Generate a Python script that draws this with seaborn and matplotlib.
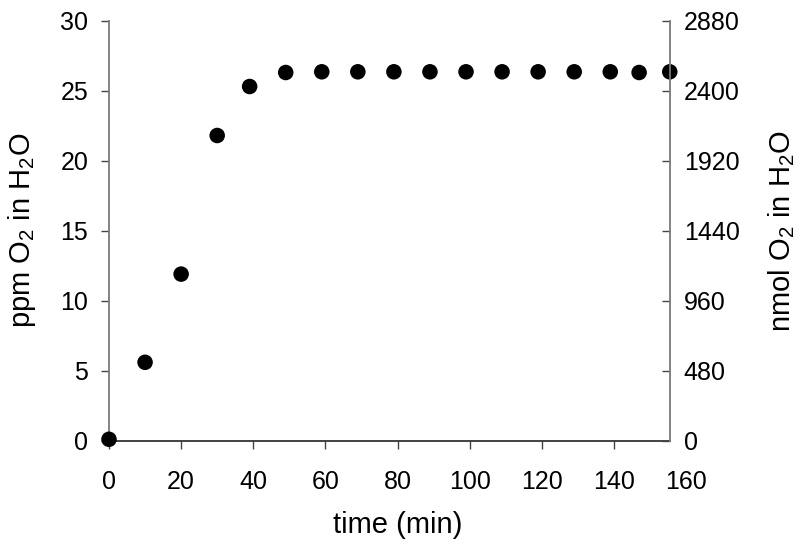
import matplotlib
matplotlib.use("Agg")
import matplotlib.pyplot as plt
import seaborn as sns
import pandas as pd

time_min = [0, 10, 20, 30, 39, 49, 59, 69, 79, 89, 99, 109, 119, 129, 139, 147, 155.5]
ppm_o2 = [0.1, 5.6, 11.9, 21.8, 25.3, 26.3, 26.35, 26.35, 26.35, 26.35, 26.35, 26.35, 26.35, 26.35, 26.35, 26.3, 26.35]
x_ticks = [0, 20, 40, 60, 80, 100, 120, 140, 160]
left_ticks = [0, 5, 10, 15, 20, 25, 30]
right_ticks = [0, 480, 960, 1440, 1920, 2400, 2880]

sns.set_theme(style="white")
plt.rcParams["font.family"] = ["Liberation Sans", "DejaVu Sans"]
plt.rcParams["mathtext.fontset"] = "custom"
plt.rcParams["mathtext.rm"] = "Liberation Sans"
plt.rcParams["mathtext.it"] = "Liberation Sans"
plt.rcParams["text.color"] = "black"
plt.rcParams["axes.labelcolor"] = "black"
plt.rcParams["xtick.color"] = "black"
plt.rcParams["ytick.color"] = "black"

df = pd.DataFrame({"time": time_min, "ppm": ppm_o2})

fig = plt.figure(figsize=(8, 5.46), dpi=100)
ax = fig.add_axes([109 / 800, 1 - 440.7 / 546, (686 - 109) / 800, (440.7 - 20.7) / 546])
sns.scatterplot(data=df, x="time", y="ppm", ax=ax, color="black", s=125,
                edgecolor="none", clip_on=False, zorder=5, legend=False)

ax.set_xlim(0, 160)
ax.set_ylim(0, 30)
ax.set_xticks(x_ticks)
ax.set_yticks(left_ticks)
ax.set_xlabel("time (min)", fontsize=21, labelpad=12)
ax.set_ylabel(r"ppm O$_2$ in H$_2$O", fontsize=21, labelpad=16)

gray = "#7a7a7a"
for s in ["top", "right"]:
    ax.spines[s].set_visible(False)
ax.spines["left"].set_color(gray)
ax.spines["left"].set_linewidth(1.3)
ax.spines["bottom"].set_color("#222222")
ax.spines["bottom"].set_linewidth(1.2)
ax.spines["bottom"].set_bounds(0, 155.5)

ax.tick_params(axis="x", direction="out", length=6, width=1.0, color="#444444",
               labelsize=18, labelcolor="black", pad=15, bottom=True)
ax.tick_params(axis="y", direction="out", length=6, width=1.0, color="#444444",
               labelsize=18, labelcolor="black", pad=9, left=True)
ax.xaxis.get_major_ticks()[-1].tick1line.set_visible(False)

ax2 = ax.twinx()
ax2.set_ylim(0, 2880)
ax2.set_yticks(right_ticks)
for s in ["top", "left", "bottom"]:
    ax2.spines[s].set_visible(False)
ax2.spines["right"].set_position(("data", 155.5))
ax2.spines["right"].set_color(gray)
ax2.spines["right"].set_linewidth(1.3)
ax2.tick_params(axis="y", direction="in", length=6, width=1.0, color="#444444",
                labelsize=18, labelcolor="black", pad=10, right=True)
ax2.set_ylabel(r"nmol O$_2$ in H$_2$O", fontsize=21, labelpad=19)
ax2.grid(False)
ax.grid(False)

fig.savefig("out.png", dpi=100)
